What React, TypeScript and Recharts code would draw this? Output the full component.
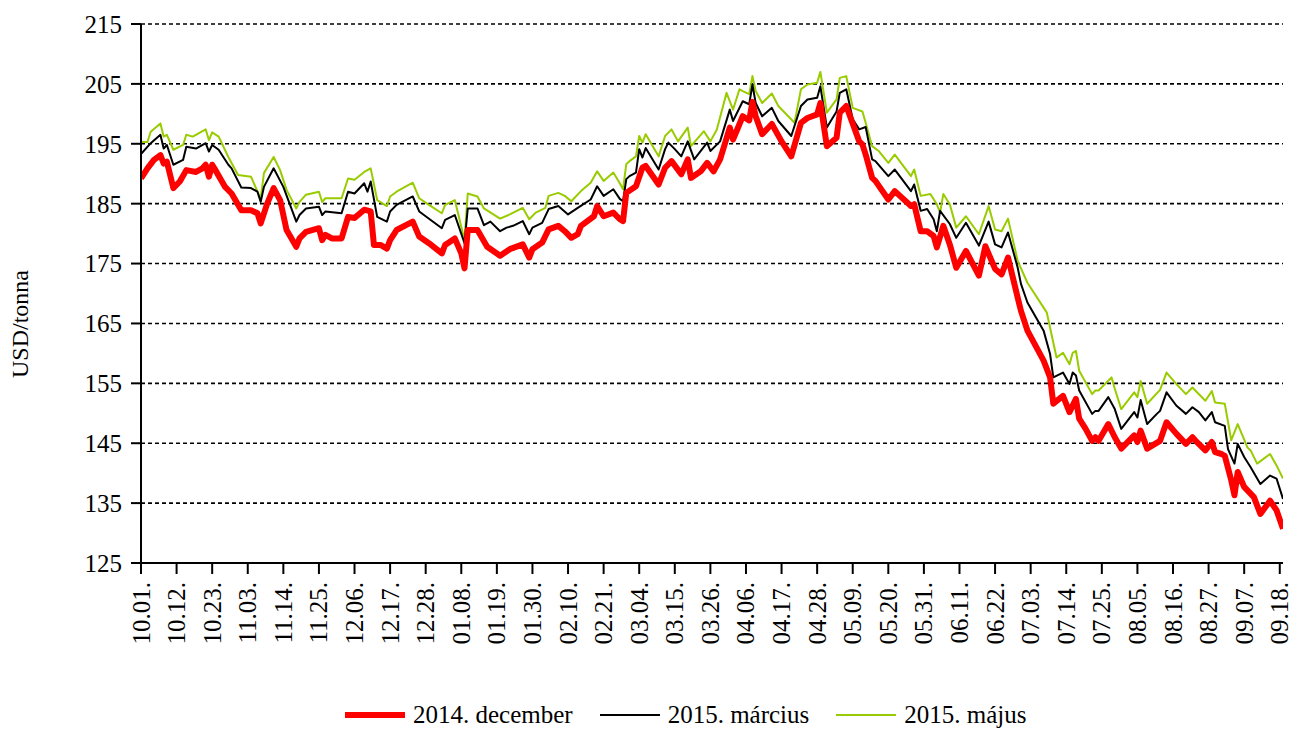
import React from 'react';
import { LineChart, Line, XAxis, YAxis, CartesianGrid, Legend, Label } from 'recharts';

const tickLabels = ['10.01.','10.12.','10.23.','11.03.','11.14.','11.25.','12.06.','12.17.','12.28.','01.08.','01.19.','01.30.','02.10.','02.21.','03.04.','03.15.','03.26.','04.06.','04.17.','04.28.','05.09.','05.20.','05.31.','06.11.','06.22.','07.03.','07.14.','07.25.','08.05.','08.16.','08.27.','09.07.','09.18.'];
const yTicks = [125, 135, 145, 155, 165, 175, 185, 195, 205, 215];

// [day index from 10.01., USD/tonna]
const dec2014: [number, number][] = [
  [0,189.2],[2,190.9],[4,192.3],[6,193.1],[7,191.7],[8,192.0],[10,187.6],[12,188.7],[14,190.6],[17,190.3],[19,190.9],[20,191.5],[21,189.5],[22,191.5],[23,190.6],[26,187.8],[28,186.7],[31,183.9],[34,183.9],[36,183.4],[37,181.7],[39,185.0],[41,187.6],[43,185.6],[45,180.6],[48,177.8],[49,179.2],[51,180.3],[55,180.9],[56,178.9],[57,179.8],[59,179.2],[62,179.2],[64,182.8],[66,182.6],[69,184.0],[71,183.7],[72,178.1],[74,178.1],[76,177.5],[77,178.9],[79,180.6],[84,182.0],[86,179.5],[89,178.4],[93,176.7],[94,178.1],[97,179.2],[99,176.7],[100,174.2],[101,180.6],[104,180.6],[107,177.8],[111,176.3],[114,177.4],[118,178.2],[120,176.0],[121,177.4],[124,178.5],[126,180.7],[129,181.3],[131,180.4],[133,179.3],[135,179.9],[136,181.3],[140,182.9],[141,184.6],[143,182.9],[146,183.5],[148,182.4],[149,182.1],[150,186.8],[153,187.9],[155,191.0],[156,191.3],[160,188.2],[162,191.0],[164,192.1],[167,189.9],[169,192.4],[170,189.3],[173,190.4],[175,191.8],[177,190.4],[179,192.4],[182,197.7],[183,195.7],[186,199.6],[188,198.9],[189,202.0],[190,199.6],[192,196.6],[195,198.3],[198,195.4],[201,192.9],[204,198.5],[206,199.3],[209,199.9],[210,201.8],[212,194.6],[215,196.0],[216,200.2],[218,201.3],[222,195.4],[223,194.9],[224,193.2],[226,189.3],[227,188.8],[231,185.7],[233,187.1],[238,184.6],[239,184.9],[241,180.4],[243,180.4],[245,179.6],[246,177.7],[248,181.3],[250,178.2],[252,174.3],[255,177.1],[259,173.0],[261,177.9],[264,174.1],[266,173.2],[268,176.0],[271,169.3],[272,167.1],[274,163.8],[279,158.8],[281,156.0],[282,151.6],[285,152.9],[287,150.2],[289,152.4],[290,149.1],[292,147.4],[294,145.4],[295,146.0],[296,145.4],[299,148.2],[301,146.0],[303,144.1],[307,146.3],[308,145.2],[309,147.1],[311,144.1],[315,145.4],[317,148.5],[320,146.6],[323,144.9],[325,146.0],[326,145.4],[329,143.8],[331,145.2],[332,143.5],[334,143.2],[335,142.9],[337,138.8],[338,136.3],[339,140.2],[341,137.7],[344,136.0],[346,133.2],[349,135.4],[351,133.8],[353,130.7]
];

const mar2015: [number, number][] = [
  [0,193.3],[3,195.1],[6,196.5],[7,194.2],[8,194.8],[10,191.5],[13,192.3],[14,194.5],[17,194.2],[20,195.1],[21,193.7],[22,194.8],[24,194.0],[27,191.5],[28,190.9],[31,187.7],[34,187.6],[36,187.0],[37,185.3],[38,187.8],[41,190.9],[44,187.8],[48,182.0],[49,183.1],[51,184.2],[55,184.5],[56,183.1],[57,183.7],[62,183.4],[64,187.0],[66,186.7],[69,188.4],[70,187.0],[71,188.7],[73,182.8],[76,182.0],[77,183.7],[79,184.8],[84,186.2],[86,183.7],[93,180.9],[94,182.3],[97,183.1],[100,178.4],[101,184.2],[104,184.2],[106,181.4],[108,182.0],[111,180.4],[113,181.0],[115,181.3],[118,182.1],[120,179.9],[121,181.0],[124,181.8],[126,184.1],[129,184.6],[132,183.2],[135,184.3],[139,185.7],[141,187.9],[143,186.3],[146,187.4],[148,185.8],[149,185.4],[150,189.1],[151,189.6],[153,190.2],[154,194.1],[155,192.7],[156,194.3],[160,190.7],[162,194.1],[163,195.2],[165,194.1],[167,192.9],[169,195.4],[171,192.4],[175,195.2],[176,193.8],[179,195.4],[182,200.7],[183,198.8],[186,202.1],[188,201.6],[189,204.9],[190,201.8],[192,199.6],[195,201.0],[197,198.8],[201,196.3],[204,201.3],[206,202.4],[209,202.7],[210,204.6],[212,197.7],[215,200.4],[216,203.5],[218,204.1],[220,199.1],[222,197.4],[224,197.8],[226,192.4],[227,192.1],[231,189.6],[233,190.7],[238,187.1],[239,188.2],[241,183.8],[243,184.1],[245,182.4],[246,180.4],[247,183.8],[250,181.6],[252,179.3],[255,181.8],[259,178.0],[262,182.0],[264,178.2],[266,177.7],[268,180.2],[271,174.3],[272,171.6],[274,168.5],[279,163.8],[281,159.9],[282,156.0],[285,156.8],[287,154.9],[288,156.8],[289,156.3],[290,153.8],[294,149.9],[295,150.4],[296,150.4],[299,152.7],[301,150.7],[303,147.4],[307,150.2],[308,149.3],[309,152.2],[311,148.2],[314,149.9],[315,150.4],[317,153.5],[320,151.3],[323,149.9],[325,151.0],[327,150.2],[329,148.8],[331,150.2],[332,148.5],[335,147.9],[336,144.0],[338,141.6],[339,144.9],[341,142.7],[343,141.0],[346,138.2],[349,139.6],[351,139.1],[353,135.7]
];

const maj2015: [number, number][] = [
  [0,195.3],[2,195.3],[3,197.0],[6,198.4],[7,196.2],[8,196.5],[10,194.0],[13,194.8],[14,196.5],[16,196.2],[20,197.4],[21,195.6],[22,196.9],[24,196.2],[27,192.8],[30,189.8],[34,189.5],[37,185.8],[38,190.1],[41,192.8],[43,190.6],[45,187.3],[48,184.2],[49,185.3],[51,186.5],[55,187.0],[56,185.3],[57,185.9],[62,185.9],[64,189.2],[66,189.0],[69,190.3],[71,190.9],[73,185.6],[76,184.6],[77,186.2],[79,187.0],[84,188.5],[86,185.9],[89,184.8],[93,183.4],[94,184.8],[97,185.6],[100,178.9],[101,186.7],[104,186.2],[106,184.2],[111,182.5],[114,183.2],[118,184.3],[120,182.4],[122,183.5],[125,184.3],[126,186.3],[129,186.8],[131,186.3],[133,185.4],[136,187.1],[139,188.5],[141,190.4],[143,188.8],[146,190.2],[148,188.4],[149,187.4],[150,191.6],[151,192.1],[153,192.9],[154,196.3],[155,195.2],[156,196.6],[160,192.9],[162,196.3],[164,197.4],[166,195.4],[169,197.7],[170,194.6],[174,197.1],[176,195.4],[178,197.4],[181,203.5],[183,200.7],[185,204.1],[186,203.8],[188,203.3],[189,206.3],[190,203.8],[192,201.8],[195,203.4],[197,201.3],[202,198.5],[204,204.1],[206,204.9],[209,205.2],[210,207.0],[212,200.2],[215,202.4],[216,206.0],[218,206.3],[220,201.0],[223,200.4],[224,198.5],[226,194.6],[228,193.8],[231,191.8],[233,193.2],[238,189.6],[239,190.7],[241,186.3],[244,186.6],[246,184.9],[247,183.5],[248,186.6],[250,184.9],[252,181.0],[255,182.9],[259,179.9],[262,184.6],[264,180.7],[266,180.4],[268,182.5],[271,175.4],[274,171.8],[280,166.8],[283,159.3],[285,160.1],[287,158.2],[288,160.1],[289,160.4],[290,157.1],[294,153.2],[295,153.8],[296,153.8],[300,156.0],[301,154.1],[303,150.7],[307,153.5],[308,152.7],[309,155.4],[311,151.6],[315,153.9],[317,156.8],[320,154.9],[323,153.2],[325,154.3],[329,152.1],[331,153.7],[332,151.8],[335,151.6],[337,145.5],[339,148.2],[342,144.3],[343,143.8],[345,141.6],[349,143.2],[351,141.3],[353,139.1]
];

const seriesNames = ['2014. december', '2015. március', '2015. május'];
const seriesColors = ['#FF0000', '#000000', '#99CC00'];
const seriesWidths = [6, 2, 2];

const toRows = (pairs: [number, number][]) => pairs.map(([d, v]) => ({ d, v }));
const decData = toRows(dec2014);
const marData = toRows(mar2015);
const majData = toRows(maj2015);
const xTicks = tickLabels.map((_, i) => i * 11);

const FONT = '"Liberation Serif", "Times New Roman", serif';

const XTick = (props: any) => {
  const { x, y, payload } = props;
  const label = tickLabels[Math.round(payload.value / 11)];
  return (
    <text x={x} y={y} transform={`rotate(-90 ${x} ${y})`} textAnchor="end" dominantBaseline="central"
      fontFamily={FONT} fontSize={25} fill="#000">{label}</text>
  );
};

const LegendContent = () => (
  <div style={{ display: 'flex', alignItems: 'center', height: 30, fontFamily: FONT, fontSize: 25, color: '#000', whiteSpace: 'nowrap' }}>
    {seriesNames.map((n, i) => (
      <div key={n} style={{ display: 'flex', alignItems: 'center', marginRight: 27 }}>
        <svg width={60} height={10} style={{ marginRight: 8 }}>
          <line x1={0} x2={60} y1={5} y2={5} stroke={seriesColors[i]} strokeWidth={seriesWidths[i]} />
        </svg>
        <span>{n}</span>
      </div>
    ))}
  </div>
);

export default function App() {
  return (
    <LineChart width={1284} height={723} margin={{ top: 16, right: 9, left: 0, bottom: 1 }}>
      <CartesianGrid vertical={false} stroke="#000" strokeDasharray="4 3" strokeWidth={1.6} />
      <XAxis type="number" dataKey="d" domain={[0, 353]} ticks={xTicks} interval={0} allowDataOverflow
        height={137} tickSize={11} tickMargin={8} tick={<XTick />}
        axisLine={{ stroke: '#000', strokeWidth: 2 }} tickLine={{ stroke: '#000', strokeWidth: 2 }} />
      <YAxis type="number" domain={[125, 215]} ticks={yTicks} interval={0} width={133} tickSize={10} tickMargin={9}
        tick={{ fontFamily: FONT, fontSize: 25, fill: '#000' }}
        axisLine={{ stroke: '#000', strokeWidth: 2 }} tickLine={{ stroke: '#000', strokeWidth: 2 }}>
        <Label content={() => (
          <text x={12} y={316} transform="rotate(-90 12 316)" textAnchor="middle" dominantBaseline="central"
            fontFamily={FONT} fontSize={24} fill="#000">USD/tonna</text>
        )} />
      </YAxis>
      <Line data={majData} dataKey="v" name={seriesNames[2]} stroke={seriesColors[2]} strokeWidth={seriesWidths[2]} dot={false} activeDot={false} isAnimationActive={false} strokeLinejoin="round" />
      <Line data={marData} dataKey="v" name={seriesNames[1]} stroke={seriesColors[1]} strokeWidth={seriesWidths[1]} dot={false} activeDot={false} isAnimationActive={false} strokeLinejoin="round" />
      <Line data={decData} dataKey="v" name={seriesNames[0]} stroke={seriesColors[0]} strokeWidth={seriesWidths[0]} dot={false} activeDot={false} isAnimationActive={false} strokeLinejoin="round" />
      <Legend verticalAlign="bottom" content={<LegendContent />} wrapperStyle={{ left: 337, width: 760, height: 30 }} />
    </LineChart>
  );
}
